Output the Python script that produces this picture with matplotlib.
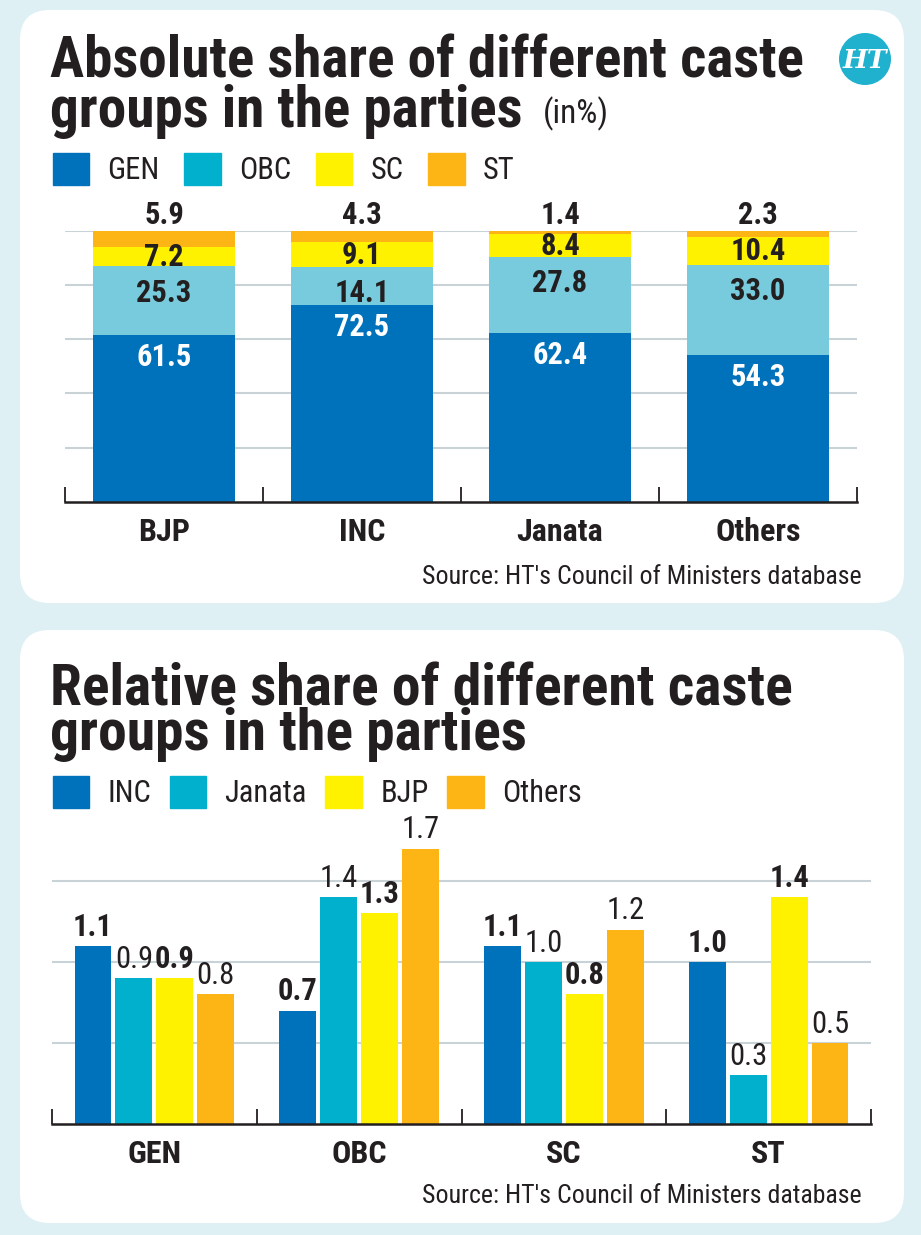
import matplotlib
matplotlib.use('Agg')
import matplotlib.pyplot as plt
from matplotlib import font_manager
from matplotlib.patches import FancyBboxPatch, Circle, Patch
import numpy as np

W, H = 921, 1235

# top chart: absolute share (in %)
parties = ['BJP', 'INC', 'Janata', 'Others']
castes = ['GEN', 'OBC', 'SC', 'ST']
gen_share = [61.5, 72.5, 62.4, 54.3]
obc_share = [25.3, 14.1, 27.8, 33.0]
sc_share = [7.2, 9.1, 8.4, 10.4]
st_share = [5.9, 4.3, 1.4, 2.3]

# bottom chart: relative share
groups = ['GEN', 'OBC', 'SC', 'ST']
rel_parties = ['INC', 'Janata', 'BJP', 'Others']
inc_rel = [1.1, 0.7, 1.1, 1.0]
janata_rel = [0.9, 1.4, 1.0, 0.3]
bjp_rel = [0.9, 1.3, 0.8, 1.4]
others_rel = [0.8, 1.7, 1.2, 0.5]

BG = '#dff0f5'
DARK = '#0071bb'
CYAN = '#00b0cc'
PALE = '#78cbdc'
YELLOW = '#fff200'
ORANGE = '#fdb515'
INK = '#231f20'
GRID = '#c8d2d7'

names = {f.name for f in font_manager.fontManager.ttflist}
FONT = 'DejaVu Sans'
for cand in ['Roboto Condensed', 'Liberation Sans Narrow', 'Open Sans Condensed', 'DejaVu Sans']:
    if cand in names:
        FONT = cand
        break
plt.rcParams['font.family'] = FONT

fig = plt.figure(figsize=(W / 100, H / 100), dpi=100, facecolor=BG)

# background layer in pixel coordinates
bg = fig.add_axes([0, 0, 1, 1], zorder=0)
bg.set_xlim(0, W)
bg.set_ylim(H, 0)
bg.axis('off')
for y0, y1 in [(10, 603), (630, 1223)]:
    bg.add_patch(FancyBboxPatch((20, y0), 884, y1 - y0,
                                boxstyle='round,pad=0,rounding_size=30',
                                fc='white', ec='none'))
bg.add_patch(Circle((865, 59), 26, fc='#1fb1cd', ec='none'))
bg.text(865, 60, 'HT', color='white', fontsize=19, fontweight='bold',
        family='DejaVu Serif', style='italic', ha='center', va='center')

renderer = fig.canvas.get_renderer()


def fit(t, width_px):
    w = t.get_window_extent(renderer).width
    t.set_fontsize(t.get_fontsize() * width_px / w)


def two_line_title(lines, x, base2, step, width):
    # va='baseline' pins the last line's baseline
    t = bg.text(x, base2, '\n'.join(lines), fontsize=40, fontweight='bold',
                color=INK, va='baseline', linespacing=1.0)
    fit(t, width)
    _, h, d = renderer.get_text_width_height_descent(
        'lp', t.get_fontproperties(), ismath=False)
    t.set_linespacing((step - d) / (h - d))
    return t


two_line_title(['Absolute share of different caste', 'groups in the parties'],
               50, 127, 49, 755)
t = bg.text(543, 123, '(in%)', fontsize=18, color=INK, va='baseline')
fit(t, 66)

two_line_title(['Relative share of different caste', 'groups in the parties'],
               50, 750, 45, 742)

for ys in [577, 1196]:
    t = bg.text(862, ys, "Source: HT's Council of Ministers database",
                fontsize=18, color=INK, ha='right', va='center')
    fit(t, 440)


def add_axes_px(x0, x1, ytop, ybot):
    return fig.add_axes([x0 / W, 1 - ybot / H, (x1 - x0) / W, (ybot - ytop) / H],
                        zorder=1, facecolor='none')


def style(ax, labels):
    for s in ['top', 'left', 'right']:
        ax.spines[s].set_visible(False)
    ax.spines['bottom'].set_linewidth(1.8)
    ax.spines['bottom'].set_color(INK)
    ax.set_xlim(-0.5, len(labels) - 0.5)
    ax.set_xticks(range(len(labels)))
    ax.set_xticklabels(labels, fontsize=23, fontweight='bold', color=INK)
    ax.set_xticks(np.arange(-0.5, len(labels), 1), minor=True)
    ax.tick_params(axis='x', which='major', length=0, pad=11)
    ax.tick_params(axis='x', which='minor', direction='in', length=11,
                   width=1.3, color=INK)
    ax.tick_params(axis='y', length=0, labelleft=False)
    ax.grid(axis='y', color=GRID, linewidth=1.5)
    ax.set_axisbelow(True)


def legend_at(handles_colors, labels, ycenter, colspace):
    fig.legend(handles=[Patch(color=c) for c in handles_colors], labels=labels,
               loc='center left', bbox_to_anchor=(25 / W, 1 - ycenter / H),
               ncol=4, frameon=False, fontsize=22, handlelength=1.2,
               handleheight=1.25, handletextpad=0.6, columnspacing=colspace,
               labelcolor=INK)


# ---- top chart: stacked bars
ax1 = add_axes_px(65, 857, 230.5, 502)
x = np.arange(len(parties))
gen = np.array(gen_share)
obc = np.array(obc_share)
sc = np.array(sc_share)
st = np.array(st_share)
bw = 0.72
ax1.bar(x, gen, bw, color=DARK, zorder=2)
ax1.bar(x, obc, bw, bottom=gen, color=PALE, zorder=2)
ax1.bar(x, sc, bw, bottom=gen + obc, color=YELLOW, zorder=2)
ax1.bar(x, st, bw, bottom=gen + obc + sc, color=ORANGE, zorder=2)
ax1.set_ylim(0, 100)
ax1.set_yticks([20, 40, 60, 80, 100])
style(ax1, parties)

lab = dict(fontsize=22, fontweight='bold', ha='center', va='center',
           textcoords='offset points', annotation_clip=False)
for i in range(len(parties)):
    ax1.annotate(f'{gen[i]:.1f}', (x[i], gen[i]), xytext=(0, -16),
                 color='white', **lab)
    ax1.annotate(f'{obc[i]:.1f}', (x[i], gen[i] + obc[i]), xytext=(0, -19),
                 color=INK, **lab)
    ax1.annotate(f'{sc[i]:.1f}', (x[i], gen[i] + obc[i] + sc[i] / 2),
                 xytext=(0, 0), color=INK, **lab)
    ax1.annotate(f'{st[i]:.1f}', (x[i], gen[i] + obc[i] + sc[i] + st[i]),
                 xytext=(0, 11), color=INK, **lab)

legend_at([DARK, CYAN, YELLOW, ORANGE], castes, 169, 0.8)

# ---- bottom chart: grouped bars
ax2 = add_axes_px(52, 871, 1124 - 1.9 * 162, 1124)
xg = np.arange(len(groups))
series = [inc_rel, janata_rel, bjp_rel, others_rel]
colors = [DARK, CYAN, YELLOW, ORANGE]
weights = ['bold', 'normal', 'bold', 'normal']
step = 0.2
for k, vals in enumerate(series):
    pos = xg + (k - 1.5) * step
    ax2.bar(pos, vals, 0.18, color=colors[k], zorder=2)
    for p, v in zip(pos, vals):
        ax2.annotate(f'{v:.1f}', (p, v), xytext=(0, 3),
                     textcoords='offset points', ha='center', va='bottom',
                     fontsize=22, fontweight=weights[k], color=INK,
                     annotation_clip=False)
ax2.set_ylim(0, 1.9)
ax2.set_yticks([0.5, 1.0, 1.5])
style(ax2, groups)

legend_at(colors, rel_parties, 792, 0.6)

fig.savefig('out.png', dpi=100, facecolor=BG)
